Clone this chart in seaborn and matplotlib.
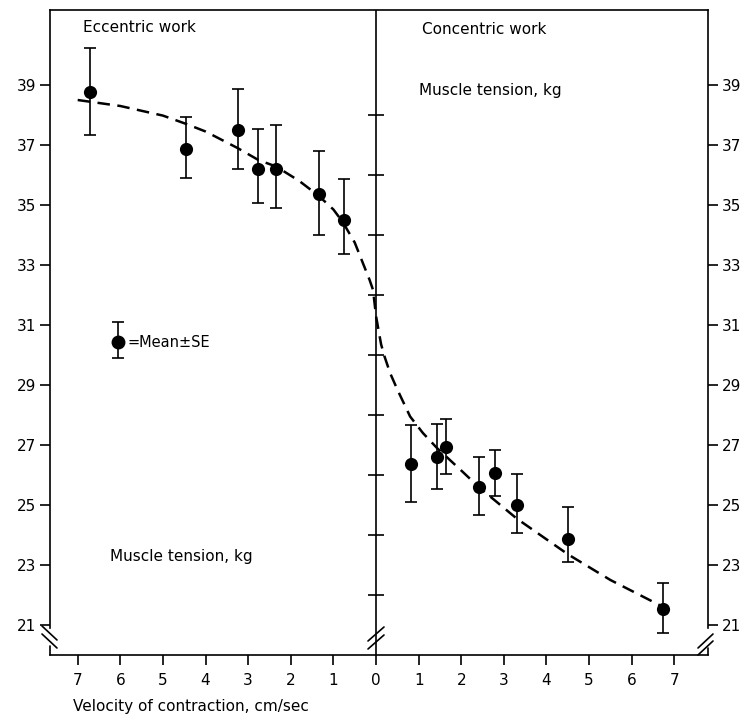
import numpy as np
import pandas as pd
import matplotlib
matplotlib.use("Agg")
import matplotlib.pyplot as plt
from matplotlib.lines import Line2D
import seaborn as sns

# ---------------- data ----------------
ecc_velocity = [6.71, 4.45, 3.25, 2.76, 2.34, 1.34, 0.75]
ecc_tension = [38.76, 36.87, 37.50, 36.20, 36.20, 35.37, 34.50]
ecc_upper = [40.24, 37.94, 38.86, 37.52, 37.66, 36.81, 35.87]
ecc_lower = [37.34, 35.89, 36.21, 35.06, 34.90, 33.99, 33.37]

con_velocity = [0.81, 1.43, 1.64, 2.41, 2.79, 3.30, 4.51, 6.74]
con_tension = [26.38, 26.60, 26.92, 25.61, 26.07, 25.01, 23.87, 21.53]
con_upper = [27.67, 27.69, 27.87, 26.61, 26.83, 26.04, 24.92, 22.39]
con_lower = [25.09, 25.52, 26.02, 24.67, 25.31, 24.07, 23.09, 20.72]

# fitted curve (eccentric velocities negative, concentric positive)
curve_velocity = [-7.0, -6.0, -5.0, -4.45, -4.0, -3.25, -2.76, -2.34, -1.8,
                  -1.34, -1.0, -0.78, -0.5, -0.31, -0.15, -0.07, 0.0, 0.05,
                  0.12, 0.2, 0.33, 0.5, 0.8, 1.1, 1.43, 2.0, 2.41, 3.3,
                  4.51, 5.5, 6.74]
curve_tension = [38.50, 38.30, 37.98, 37.70, 37.45, 36.90, 36.50, 36.28, 35.80,
                 35.30, 34.85, 34.43, 33.75, 33.07, 32.50, 32.17, 31.30, 30.90,
                 30.35, 29.95, 29.40, 28.85, 27.95, 27.40, 26.90, 26.15, 25.60,
                 24.55, 23.35, 22.50, 21.60]

x_ticks = [-7, -6, -5, -4, -3, -2, -1, 0, 1, 2, 3, 4, 5, 6, 7]
x_tick_labels = ["7", "6", "5", "4", "3", "2", "1", "0", "1", "2", "3", "4", "5", "6", "7"]
y_ticks = [21, 23, 25, 27, 29, 31, 33, 35, 37, 39]
mid_ticks = [22, 24, 26, 28, 30, 32, 34, 36, 38]

legend_x, legend_y, legend_lo, legend_hi = -6.06, 30.43, 29.90, 31.10

# ---------------- build tables ----------------
points = pd.DataFrame({
    "velocity": [-v for v in ecc_velocity] + list(con_velocity),
    "tension": list(ecc_tension) + list(con_tension),
    "upper": list(ecc_upper) + list(con_upper),
    "lower": list(ecc_lower) + list(con_lower),
})
curve = pd.DataFrame({"velocity": curve_velocity, "tension": curve_tension})

# ---------------- figure ----------------
sns.set_style("white")
plt.rcParams["font.family"] = ["DejaVu Sans"]
plt.rcParams["text.color"] = "black"
plt.rcParams["xtick.color"] = "black"
plt.rcParams["ytick.color"] = "black"
plt.rcParams["xtick.labelcolor"] = "black"
plt.rcParams["ytick.labelcolor"] = "black"

W, H = 748, 716
fig = plt.figure(figsize=(W / 100, H / 100), dpi=100)
L, R, T, B = 50, 708, 10, 655
ax = fig.add_axes([L / W, 1 - B / H, (R - L) / W, (B - T) / H])

XMIN, XMAX = -7.65, 7.79
YMIN, YMAX = 20.0, 41.5
ax.set_xlim(XMIN, XMAX)
ax.set_ylim(YMIN, YMAX)

lw = 1.2
# fitted curve
sns.lineplot(data=curve, x="velocity", y="tension", ax=ax, sort=False,
             estimator=None, color="black", linewidth=1.8,
             dashes=False, zorder=3)
ax.lines[-1].set_dashes((5, 3))

# error bars
ax.errorbar(points["velocity"], points["tension"],
            yerr=[points["tension"] - points["lower"], points["upper"] - points["tension"]],
            fmt="none", ecolor="black", elinewidth=lw, capsize=4, capthick=lw, zorder=4)
sns.scatterplot(data=points, x="velocity", y="tension", ax=ax, color="black",
                s=90, edgecolor="black", linewidth=0, zorder=5, legend=False)

# legend symbol
ax.errorbar([legend_x], [legend_y], yerr=[[legend_y - legend_lo], [legend_hi - legend_y]],
            fmt="o", color="black", markersize=9, elinewidth=lw, capsize=4, capthick=lw)
ax.text(legend_x + 0.22, legend_y, "=Mean±SE", fontsize=10.5, va="center", ha="left",
        color="black")

# middle vertical line with crossing ticks
ax.axvline(0, color="black", linewidth=lw, zorder=2)
ax.plot([0] * len(mid_ticks), mid_ticks, linestyle="none", marker="_",
        markersize=12, markeredgewidth=lw, color="black", zorder=2)

# spines
for s in ["top", "bottom", "left", "right"]:
    ax.spines[s].set_linewidth(lw)
    ax.spines[s].set_color("black")
ax.spines["left"].set_bounds(20.9, YMAX)
ax.spines["right"].set_bounds(20.9, YMAX)

ax.set_xticks(x_ticks)
ax.set_xticklabels(x_tick_labels)
ax.set_yticks(y_ticks)
ax.set_yticklabels([str(v) for v in y_ticks])
ax.tick_params(axis="x", direction="out", length=7, width=lw, pad=6, labelsize=11,
               bottom=True, top=False, colors="black")
ax.tick_params(axis="y", direction="out", length=7, width=lw, pad=3, labelsize=11,
               left=True, right=True, labelleft=True, labelright=True, colors="black")
ax.set_xlabel("")
ax.set_ylabel("")

# break marks (figure pixel coordinates)
def px_line(x0, y0, x1, y1):
    fig.add_artist(Line2D([x0 / W, x1 / W], [1 - y0 / H, 1 - y1 / H],
                          color="black", linewidth=lw, transform=fig.transFigure))

# left "\\" break
px_line(42, 626, 57, 640)
px_line(42, 634, 57, 648)
px_line(50, 646, 50, 655)
# middle "//" break
px_line(368, 641, 384, 627)
px_line(368, 649, 384, 635)
# right "//" break
px_line(698, 648, 713, 634)
px_line(698, 655, 713, 641)
px_line(708, 648, 708, 655)

# texts
kw = dict(fontsize=11, va="center", ha="left", color="black")
fig.text(83 / W, 1 - 27 / H, "Eccentric work", **kw)
fig.text(422 / W, 1 - 30 / H, "Concentric work", **kw)
fig.text(419 / W, 1 - 90 / H, "Muscle tension, kg", **kw)
fig.text(110 / W, 1 - 557 / H, "Muscle tension, kg", **kw)
fig.text(73 / W, 1 - 706 / H, "Velocity of contraction, cm/sec", **kw)

fig.savefig("out.png", dpi=100, facecolor="white")
